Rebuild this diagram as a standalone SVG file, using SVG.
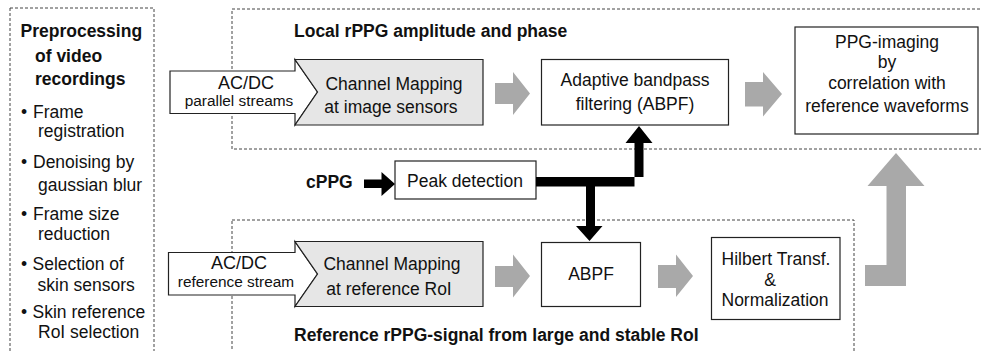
<svg xmlns="http://www.w3.org/2000/svg" width="981" height="351" viewBox="0 0 981 351">
<style>
text{font-family:"Liberation Sans",Arial,Helvetica,sans-serif;fill:#111;}
.t{font-size:17.5px;}
.b{font-size:17.5px;font-weight:bold;}
.s{font-size:15.4px;}
.m{text-anchor:middle;}
.dash{fill:none;stroke:#444;stroke-width:1;stroke-dasharray:3 2;}
.box{fill:#fff;stroke:#222;stroke-width:1.2;}
.grey{fill:#e6e6e6;stroke:#222;stroke-width:1.2;}
.ga{fill:#a9a9a9;stroke:none;}
.ba{fill:#000;stroke:none;}
</style>
<rect width="981" height="351" fill="#fff"/>
<g id="preprocessing">
<rect class="dash" x="10" y="8" width="144" height="360"/>
<text class="b" x="20.5" y="37">Preprocessing</text>
<text class="b" x="35" y="62">of video</text>
<text class="b" x="35" y="85">recordings</text>
<text class="t" x="21" y="118">•</text><text class="t" x="33" y="118">Frame</text>
<text class="t" x="38" y="137">registration</text>
<text class="t" x="21" y="168">•</text><text class="t" x="33" y="168">Denoising by</text>
<text class="t" x="38" y="191">gaussian blur</text>
<text class="t" x="21" y="220">•</text><text class="t" x="33" y="220">Frame size</text>
<text class="t" x="38" y="240">reduction</text>
<text class="t" x="21" y="270">•</text><text class="t" x="32.5" y="270">Selection of</text>
<text class="t" x="37.5" y="290.5">skin sensors</text>
<text class="t" x="21" y="317.5">•</text><text class="t" x="32.5" y="317.5">Skin reference</text>
<text class="t" x="38" y="338">RoI selection</text>
</g>
<g id="local-group">
<rect class="dash" x="232" y="9" width="760" height="140"/>
<text class="b" x="294" y="37">Local rPPG amplitude and phase</text>
</g>
<g id="reference-group">
<rect class="dash" x="232" y="220" width="622" height="150"/>
<text class="b" x="294" y="341">Reference rPPG-signal from large and stable RoI</text>
</g>
<g id="acdc-parallel">
<polygon class="box" points="170,71 295,71 295,59.5 317.5,92 295,125 295,113.5 170,113.5"/>
<text class="m" x="246" y="89" style="font-size:18px">AC/DC</text>
<text class="s m" x="239" y="106">parallel streams</text>
</g>
<g id="channel-mapping-sensors">
<polygon class="grey" points="295,59.5 483,59.5 483,125 295,125 317.5,92"/>
<text class="t m" x="394" y="90">Channel Mapping</text>
<text class="t m" x="391" y="113">at image sensors</text>
</g>
<g id="abpf-adaptive">
<rect class="box" x="541.5" y="59.5" width="187" height="65.5"/>
<text class="t m" x="635" y="86">Adaptive bandpass</text>
<text class="t m" x="635" y="110">filtering (ABPF)</text>
</g>
<g id="ppg-imaging">
<rect class="box" x="795" y="27" width="183" height="107"/>
<text class="t m" x="887" y="48">PPG-imaging</text>
<text class="t m" x="887" y="68">by</text>
<text class="t m" x="887" y="89">correlation with</text>
<text class="t m" x="887" y="112">reference waveforms</text>
</g>
<g id="cppg">
<text class="b" x="306" y="188">cPPG</text>
</g>
<g id="peak-detection">
<rect class="box" x="395" y="161" width="141" height="38"/>
<text class="t m" x="465" y="187">Peak detection</text>
</g>
<g id="acdc-reference">
<polygon class="box" points="168.5,252.5 295,252.5 295,241.5 317.5,274 295,306.5 295,295 168.5,295"/>
<text class="m" x="239" y="269" style="font-size:18px">AC/DC</text>
<text class="s m" x="236" y="286.5">reference stream</text>
</g>
<g id="channel-mapping-roi">
<polygon class="grey" points="295,241.5 483,241.5 483,306.5 295,306.5 317.5,274"/>
<text class="t m" x="392" y="270">Channel Mapping</text>
<text class="t m" x="389" y="295">at reference RoI</text>
</g>
<g id="abpf">
<rect class="box" x="541.5" y="242.5" width="99" height="64"/>
<text class="t m" x="591" y="280">ABPF</text>
</g>
<g id="hilbert">
<rect class="box" x="711.5" y="237.5" width="128.5" height="82"/>
<text class="t m" x="776" y="265">Hilbert Transf.</text>
<text class="t m" x="770" y="286">&amp;</text>
<text class="t m" x="775" y="306">Normalization</text>
</g>
<g id="connectors">
<polygon class="ga" points="495,83 513,83 513,72 530,93.5 513,115 513,104 495,104"/>
<polygon class="ga" points="745,82 763,82 763,72 782,94 763,116.5 763,106.5 745,106.5"/>
<polygon class="ga" points="495,266 513,266 513,254.5 530,276 513,297.5 513,287 495,287"/>
<polygon class="ga" points="658,265 676,265 676,254.5 693,276 676,297 676,288 658,288"/>
<polygon class="ga" points="865,265 886.5,265 886.5,186 867.5,186 896,153 924.5,186 906,186 906,286 865,286"/>
<polygon class="ba" points="364,179.5 381.5,179.5 381.5,172 395,184 381.5,196 381.5,188 364,188"/>
<polygon class="ba" points="536,177 643.5,177 643.5,143 652.5,143 639,126 625.5,143 634.5,143 634.5,186.5 595,186.5 595,226 602.5,226 589.5,241 576,226 586,226 586,186.5 536,186.5"/>
</g>
</svg>
